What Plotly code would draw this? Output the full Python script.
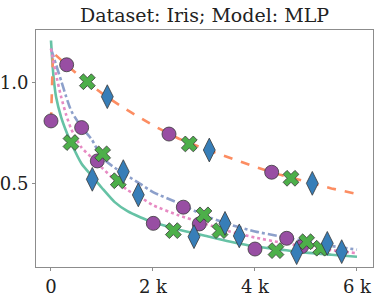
import plotly.graph_objects as go

# ---- data ----
x_green = [0, 20, 50, 100, 200, 300, 400, 600, 800, 1000, 1250, 1500, 1750, 2000, 2500, 3000, 3500, 4000, 4500, 5000, 5500, 6000]
y_green = [1.21, 1.13, 1.03, 0.93, 0.83, 0.76, 0.70, 0.60, 0.54, 0.48, 0.41, 0.365, 0.335, 0.31, 0.275, 0.245, 0.215, 0.19, 0.175, 0.16, 0.15, 0.14]

x_orange = [0, 40, 300, 700, 1100, 1500, 2000, 2500, 3000, 3500, 4000, 4500, 5000, 5500, 6000]
y_orange = [0.81, 1.15, 1.09, 1.005, 0.93, 0.865, 0.79, 0.725, 0.675, 0.63, 0.585, 0.545, 0.51, 0.478, 0.45]

x_blue = [0, 50, 100, 200, 300, 400, 600, 800, 1000, 1250, 1500, 1750, 2000, 2500, 3000, 3500, 4000, 4500, 5000, 5500, 6000]
y_blue = [1.17, 1.13, 1.09, 1.01, 0.93, 0.86, 0.78, 0.72, 0.63, 0.58, 0.54, 0.50, 0.46, 0.405, 0.345, 0.30, 0.265, 0.24, 0.215, 0.193, 0.175]

x_pink = [0, 50, 100, 200, 300, 400, 600, 800, 1000, 1250, 1500, 1750, 2000, 2500, 3000, 3500, 4000, 4500, 5000, 5500, 6000]
y_pink = [1.17, 1.1, 1.04, 0.93, 0.84, 0.77, 0.68, 0.63, 0.58, 0.52, 0.47, 0.435, 0.395, 0.345, 0.305, 0.265, 0.235, 0.21, 0.19, 0.172, 0.157]

x_circle = [0, 307, 601, 908, 2006, 2314, 2595, 2908, 4000, 4327, 4621, 4915]
y_circle = [0.812, 1.09, 0.779, 0.614, 0.305, 0.747, 0.385, 0.302, 0.178, 0.558, 0.231, 0.19]

x_cross = [392, 713, 1013, 1320, 2399, 2712, 3000, 3314, 4412, 4706, 5013, 5288]
y_cross = [0.705, 1.006, 0.649, 0.516, 0.269, 0.698, 0.347, 0.269, 0.17, 0.528, 0.214, 0.182]

x_diamond = [810, 1104, 1418, 1712, 2804, 3104, 3412, 3692, 4817, 5124, 5418, 5700]
y_diamond = [0.523, 0.932, 0.561, 0.446, 0.239, 0.668, 0.305, 0.243, 0.16, 0.503, 0.206, 0.165]

x_tickvals = [0, 2000, 4000, 6000]
x_ticktext = ["0", "2 k", "4 k", "6 k"]
y_tickvals = [0.5, 1.0]
y_ticktext = ["0.5", "1.0"]

FONT = "DejaVu Serif"

fig = go.Figure()
lw = 2.6
fig.add_trace(go.Scatter(x=x_green, y=y_green, mode="lines", line=dict(color="#66c2a5", width=lw, shape="spline", smoothing=0.6)))
fig.add_trace(go.Scatter(x=x_orange, y=y_orange, mode="lines", line=dict(color="#fc8d62", width=lw, dash="dash")))
fig.add_trace(go.Scatter(x=x_blue, y=y_blue, mode="lines", line=dict(color="#8da0cb", width=lw, dash="dashdot", shape="spline", smoothing=0.6)))
fig.add_trace(go.Scatter(x=x_pink, y=y_pink, mode="lines", line=dict(color="#e78ac3", width=lw, dash="dot", shape="spline", smoothing=0.6)))

edge = dict(color="#3a3a3a", width=0.8)
fig.add_trace(go.Scatter(x=x_circle, y=y_circle, mode="markers",
                         marker=dict(symbol="circle", size=14, color="#984ea3", line=edge)))
fig.add_trace(go.Scatter(x=x_cross, y=y_cross, mode="markers",
                         marker=dict(symbol="x", size=14, color="#4daf4a", line=edge)))
fig.add_trace(go.Scatter(x=x_diamond, y=y_diamond, mode="markers",
                         marker=dict(symbol="diamond-tall", size=17, color="#377eb8", line=edge)))

axis_common = dict(showgrid=False, zeroline=False, showline=True, linecolor="#8c8c8c", linewidth=1,
                   mirror=True, ticks="outside", ticklen=3, tickcolor="#8c8c8c", automargin=False,
                   tickfont=dict(family=FONT, size=18, color="#222222"))
fig.update_xaxes(range=[-294, 6314], tickvals=x_tickvals, ticktext=x_ticktext, **axis_common)
fig.update_yaxes(range=[0.089, 1.262], tickvals=y_tickvals, ticktext=y_ticktext, ticklabelstandoff=0, **axis_common)

fig.update_layout(
    width=383, height=304,
    margin=dict(l=36, r=10, t=30, b=37),
    paper_bgcolor="white", plot_bgcolor="white",
    showlegend=False,
    title=dict(text="Dataset: Iris; Model: MLP", x=0.5, xanchor="center", xref="paper",
               y=1 - 15 / 304, yref="container", yanchor="middle",
               font=dict(family=FONT, size=19, color="#222222")),
)

fig.write_html("out.html", config={"displayModeBar": False},
               post_script="document.body.style.margin='0';document.body.style.overflow='hidden';")
